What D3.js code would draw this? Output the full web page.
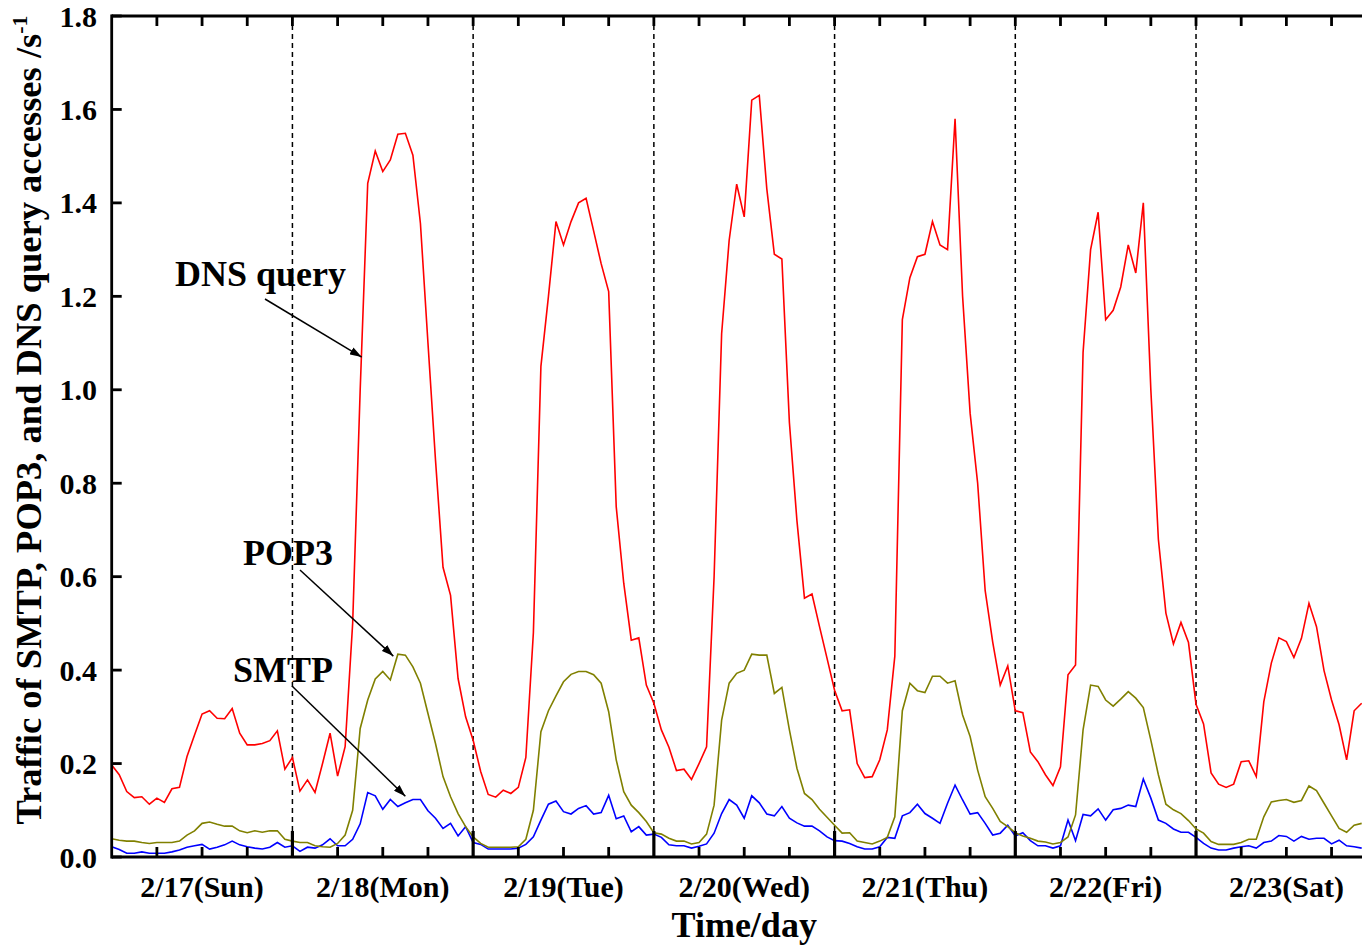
<!DOCTYPE html>
<html>
<head>
<meta charset="utf-8">
<script src="https://cdn.jsdelivr.net/npm/d3@7"></script>
<style>
  html, body { margin: 0; padding: 0; background: #fff; overflow: hidden; }
  svg { display: block; }
  text { font-family: "Liberation Serif", "Times New Roman", serif; font-weight: bold; fill: #000; }
</style>
</head>
<body>
<svg id="chart" width="1362" height="946"></svg>
<script>
// Hourly access rates (per second), starting 2/17 00:00
const dnsQuery = [
  0.197, 0.176, 0.140, 0.127, 0.129, 0.113, 0.126, 0.117, 0.146, 0.149, 0.215, 0.261,
  0.306, 0.313, 0.297, 0.296, 0.318, 0.265, 0.240, 0.240, 0.243, 0.249, 0.270, 0.188,
  0.213, 0.141, 0.165, 0.138, 0.200, 0.265, 0.173, 0.236, 0.500, 1.000, 1.442, 1.511,
  1.467, 1.492, 1.547, 1.549, 1.502, 1.356, 1.100, 0.850, 0.620, 0.560, 0.382, 0.300,
  0.250, 0.183, 0.134, 0.128, 0.143, 0.136, 0.149, 0.213, 0.480, 1.050, 1.200, 1.360,
  1.310, 1.360, 1.400, 1.410, 1.340, 1.270, 1.210, 0.750, 0.586, 0.464, 0.469, 0.368,
  0.329, 0.272, 0.235, 0.185, 0.188, 0.166, 0.200, 0.236, 0.600, 1.120, 1.320, 1.440,
  1.370, 1.620, 1.630, 1.430, 1.290, 1.280, 0.930, 0.720, 0.554, 0.563, 0.493, 0.425,
  0.357, 0.313, 0.315, 0.200, 0.170, 0.172, 0.208, 0.272, 0.430, 1.150, 1.240, 1.285,
  1.290, 1.360, 1.310, 1.300, 1.580, 1.200, 0.950, 0.800, 0.570, 0.460, 0.368, 0.409,
  0.313, 0.309, 0.225, 0.204, 0.176, 0.153, 0.193, 0.390, 0.411, 1.080, 1.300, 1.380,
  1.150, 1.170, 1.220, 1.310, 1.250, 1.400, 1.000, 0.680, 0.522, 0.456, 0.502, 0.459,
  0.327, 0.285, 0.180, 0.156, 0.149, 0.156, 0.204, 0.206, 0.172, 0.332, 0.415, 0.469,
  0.461, 0.427, 0.468, 0.543, 0.493, 0.399, 0.336, 0.283, 0.208, 0.313, 0.329
];
const pop3 = [
  0.039, 0.036, 0.034, 0.034, 0.031, 0.029, 0.031, 0.031, 0.031, 0.034, 0.047, 0.056,
  0.072, 0.075, 0.070, 0.066, 0.066, 0.056, 0.052, 0.056, 0.053, 0.056, 0.056, 0.038,
  0.034, 0.031, 0.031, 0.024, 0.022, 0.021, 0.029, 0.047, 0.100, 0.275, 0.336, 0.381,
  0.397, 0.379, 0.434, 0.432, 0.407, 0.372, 0.307, 0.243, 0.172, 0.129, 0.093, 0.065,
  0.043, 0.029, 0.021, 0.021, 0.021, 0.021, 0.022, 0.038, 0.100, 0.268, 0.313, 0.345,
  0.375, 0.391, 0.397, 0.397, 0.390, 0.372, 0.311, 0.208, 0.140, 0.111, 0.095, 0.076,
  0.052, 0.049, 0.040, 0.034, 0.034, 0.028, 0.031, 0.049, 0.111, 0.293, 0.372, 0.393,
  0.400, 0.434, 0.432, 0.432, 0.350, 0.363, 0.272, 0.190, 0.136, 0.123, 0.102, 0.085,
  0.068, 0.051, 0.052, 0.034, 0.031, 0.028, 0.034, 0.042, 0.086, 0.313, 0.372, 0.356,
  0.352, 0.387, 0.387, 0.372, 0.377, 0.304, 0.258, 0.186, 0.129, 0.104, 0.076, 0.065,
  0.052, 0.045, 0.040, 0.034, 0.032, 0.028, 0.031, 0.043, 0.090, 0.272, 0.368, 0.365,
  0.336, 0.323, 0.338, 0.354, 0.340, 0.320, 0.250, 0.176, 0.113, 0.101, 0.093, 0.078,
  0.060, 0.051, 0.033, 0.027, 0.027, 0.027, 0.031, 0.038, 0.038, 0.086, 0.118, 0.121,
  0.123, 0.117, 0.121, 0.152, 0.142, 0.115, 0.088, 0.061, 0.053, 0.068, 0.072
];
const smtp = [
  0.022, 0.016, 0.008, 0.008, 0.011, 0.008, 0.008, 0.008, 0.011, 0.015, 0.021, 0.024,
  0.027, 0.017, 0.021, 0.026, 0.034, 0.026, 0.022, 0.019, 0.017, 0.021, 0.031, 0.021,
  0.024, 0.012, 0.021, 0.019, 0.026, 0.039, 0.024, 0.024, 0.038, 0.071, 0.138, 0.131,
  0.102, 0.123, 0.108, 0.116, 0.123, 0.123, 0.099, 0.083, 0.061, 0.072, 0.045, 0.065,
  0.031, 0.027, 0.017, 0.017, 0.017, 0.017, 0.019, 0.027, 0.043, 0.079, 0.113, 0.120,
  0.097, 0.092, 0.104, 0.110, 0.092, 0.095, 0.132, 0.082, 0.088, 0.054, 0.065, 0.047,
  0.049, 0.042, 0.026, 0.024, 0.024, 0.019, 0.023, 0.028, 0.051, 0.093, 0.123, 0.111,
  0.083, 0.131, 0.116, 0.092, 0.088, 0.108, 0.083, 0.073, 0.066, 0.066, 0.056, 0.043,
  0.035, 0.034, 0.029, 0.022, 0.017, 0.017, 0.022, 0.042, 0.040, 0.088, 0.095, 0.113,
  0.093, 0.083, 0.072, 0.115, 0.154, 0.122, 0.092, 0.095, 0.072, 0.047, 0.051, 0.068,
  0.045, 0.052, 0.035, 0.024, 0.024, 0.019, 0.024, 0.079, 0.035, 0.091, 0.088, 0.103,
  0.079, 0.101, 0.104, 0.111, 0.108, 0.167, 0.126, 0.079, 0.072, 0.060, 0.053, 0.053,
  0.042, 0.029, 0.019, 0.015, 0.015, 0.019, 0.022, 0.024, 0.019, 0.031, 0.034, 0.046,
  0.044, 0.034, 0.044, 0.038, 0.040, 0.040, 0.028, 0.036, 0.024, 0.022, 0.019
];
const dayLabels = ["2/17(Sun)", "2/18(Mon)", "2/19(Tue)", "2/20(Wed)", "2/21(Thu)", "2/22(Fri)", "2/23(Sat)"];
const yTicks = [0.0, 0.2, 0.4, 0.6, 0.8, 1.0, 1.2, 1.4, 1.6, 1.8];

const svg = d3.select("#chart");
const plotLeft = 111.7, plotTop = 16, plotBottom = 857;
const hourW = 7.53;
const hours = 24 * dayLabels.length;

const x = d3.scaleLinear().domain([0, hours]).range([plotLeft, plotLeft + hours * hourW]);
const y = d3.scaleLinear().domain([0, 1.8]).range([plotBottom, plotTop]);

// Day separators
const dayBounds = d3.range(24, hours, 24);
svg.append("g").selectAll("line").data(dayBounds).join("line")
  .attr("x1", d => x(d)).attr("x2", d => x(d))
  .attr("y1", plotTop).attr("y2", plotBottom)
  .attr("stroke", "#000").attr("stroke-width", 1.5)
  .attr("stroke-dasharray", "5,4");

// Series
const line = d3.line().x((d, i) => x(i)).y(d => y(d));
const series = [
  { values: smtp, color: "#0000ff" },
  { values: pop3, color: "#808000" },
  { values: dnsQuery, color: "#ff0000" }
];
svg.append("g").selectAll("path").data(series).join("path")
  .attr("d", d => line(d.values))
  .attr("fill", "none")
  .attr("stroke", d => d.color)
  .attr("stroke-width", 1.6)
  .attr("stroke-linejoin", "miter");

// Frame
const axisG = svg.append("g").attr("stroke", "#000");
axisG.append("line").attr("x1", plotLeft).attr("x2", 1362).attr("y1", plotTop).attr("y2", plotTop).attr("stroke-width", 2.8);
axisG.append("line").attr("x1", plotLeft).attr("x2", 1362).attr("y1", plotBottom).attr("y2", plotBottom).attr("stroke-width", 2.8);
axisG.append("line").attr("x1", plotLeft).attr("x2", plotLeft).attr("y1", plotTop - 1.4).attr("y2", plotBottom + 1.4).attr("stroke-width", 2.8);

// Y ticks and labels
svg.append("g").selectAll("line").data(yTicks).join("line")
  .attr("x1", plotLeft).attr("x2", plotLeft + 10)
  .attr("y1", d => y(d)).attr("y2", d => y(d))
  .attr("stroke", "#000").attr("stroke-width", 2.8);
svg.append("g").selectAll("text").data(yTicks).join("text")
  .attr("x", 97).attr("y", d => y(d))
  .attr("dy", "0.35em")
  .attr("text-anchor", "end")
  .attr("font-size", 30)
  .text(d => d3.format(".1f")(d));

// X ticks (every 6 hours); day boundaries are longer on the bottom axis
const xTicks = d3.range(6, hours + 1, 6);
svg.append("g").selectAll("line").data(xTicks).join("line")
  .attr("x1", d => x(d)).attr("x2", d => x(d))
  .attr("y1", plotBottom).attr("y2", d => d % 24 === 0 ? plotBottom - 26 : plotBottom - 10)
  .attr("stroke", "#000").attr("stroke-width", d => d % 24 === 0 ? 3.2 : 2.8);
svg.append("g").selectAll("line").data(xTicks).join("line")
  .attr("x1", d => x(d)).attr("x2", d => x(d))
  .attr("y1", plotTop).attr("y2", plotTop + 10)
  .attr("stroke", "#000").attr("stroke-width", 2.8);

// Day labels
svg.append("g").selectAll("text").data(dayLabels).join("text")
  .attr("x", (d, i) => x(i * 24 + 12))
  .attr("y", 897)
  .attr("text-anchor", "middle")
  .attr("font-size", 30)
  .text(d => d);

// Axis titles
svg.append("text")
  .attr("x", x(hours / 2)).attr("y", 937)
  .attr("text-anchor", "middle")
  .attr("font-size", 36)
  .text("Time/day");

const yTitle = svg.append("text")
  .attr("transform", "translate(41,420) rotate(-90)")
  .attr("text-anchor", "middle")
  .attr("font-size", 36.5);
yTitle.append("tspan").text("Traffic of SMTP, POP3, and DNS query accesses /s");
yTitle.append("tspan").attr("font-size", 22).attr("dy", -14).text("-1");

// Annotations with arrows
svg.append("defs").append("marker")
  .attr("id", "arrowHead")
  .attr("viewBox", "0 0 12 8")
  .attr("refX", 12).attr("refY", 4)
  .attr("markerWidth", 12).attr("markerHeight", 8)
  .attr("markerUnits", "userSpaceOnUse")
  .attr("orient", "auto")
  .append("path").attr("d", "M0,0 L12,4 L0,8 Z").attr("fill", "#000");

const notes = [
  { label: "DNS query", tx: 175, ty: 286, x1: 265, y1: 299, hour: 33.2, value: 1.07 },
  { label: "POP3", tx: 243, ty: 565, x1: 300, y1: 570, hour: 37.4, value: 0.43 },
  { label: "SMTP", tx: 233, ty: 682, x1: 292, y1: 686, hour: 39, value: 0.13 }
];
svg.append("g").selectAll("line").data(notes).join("line")
  .attr("x1", d => d.x1).attr("y1", d => d.y1)
  .attr("x2", d => x(d.hour)).attr("y2", d => y(d.value))
  .attr("stroke", "#000").attr("stroke-width", 1.5)
  .attr("marker-end", "url(#arrowHead)");
svg.append("g").selectAll("text").data(notes).join("text")
  .attr("x", d => d.tx).attr("y", d => d.ty)
  .attr("font-size", 36)
  .text(d => d.label);
</script>
</body>
</html>
